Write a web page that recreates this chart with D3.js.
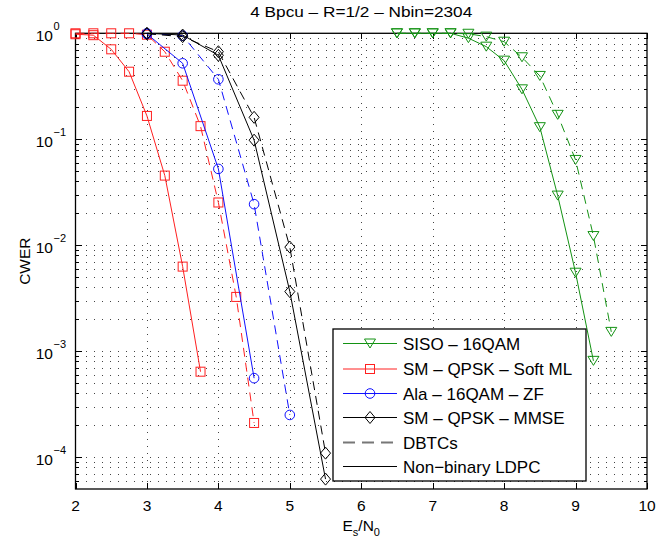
<!DOCTYPE html>
<html><head><meta charset="utf-8">
<script src="https://cdn.jsdelivr.net/npm/d3@7"></script>
<style>
html,body{margin:0;padding:0;background:#fff;}
text{font-family:"Liberation Sans",Arial,Helvetica,sans-serif;fill:#000;}
</style></head>
<body><svg id="c" width="658" height="544"></svg>
<script>
// ---- data ----
const title = "4 Bpcu \u2013 R=1/2 \u2013 Nbin=2304";
const xTicks = [2,3,4,5,6,7,8,9,10];
const yExps = [0,-1,-2,-3,-4];

const snrSisoLdpc = [6.5,6.75,7,7.25,7.5,7.75,8,8.25,8.5,8.75,9,9.25];
const cwerSisoLdpc = [1,1,1,1,0.9,0.748,0.552,0.296,0.130,0.0294,0.0055,8.1e-4];
const snrSisoDbtc = [6.5,6.75,7,7.25,7.5,7.75,8,8.25,8.5,8.75,9,9.25,9.5];
const cwerSisoDbtc = [1,1,1,1,0.99,0.93,0.833,0.594,0.396,0.17,0.0638,0.0122,1.52e-3];

const snrMlLdpc = [2,2.25,2.5,2.75,3,3.25,3.5,3.75];
const cwerMlLdpc = [0.98,0.96,0.706,0.434,0.166,0.0454,0.00628,6.4e-4];
const snrMlDbtc = [2,2.25,2.5,2.75,3,3.25,3.5,3.75,4,4.25,4.5];
const cwerMlDbtc = [1,1,1,1,0.97,0.67,0.357,0.133,0.0253,0.00325,2.1e-4];

const snrZfLdpc = [3,3.5,4,4.5];
const cwerZfLdpc = [0.985,0.521,0.0525,5.56e-4];
const snrZfDbtc = [3,3.5,4,4.5,5];
const cwerZfDbtc = [1,0.95,0.368,0.0244,2.5e-4];

const snrMmseLdpc = [3,3.5,4,4.5,5,5.5];
const cwerMmseLdpc = [1,0.963,0.62,0.098,0.00365,6.2e-5];
const snrMmseDbtc = [3,3.5,4,4.5,5,5.5];
const cwerMmseDbtc = [0.99,0.93,0.67,0.161,0.0096,1.09e-4];

const legendLabels = ["SISO \u2013 16QAM","SM \u2013 QPSK \u2013 Soft ML","Ala \u2013 16QAM \u2013 ZF","SM \u2013 QPSK \u2013 MMSE","DBTCs","Non\u2212binary LDPC"];

// ---- setup ----
const svg = d3.select("#c");
const L=75.5, R=647, T=33.3, B=489;
const x = d3.scaleLinear().domain([2,10]).range([L,R]);
const y = d3.scaleLog().domain([5e-5,1]).range([B,T]);

const GREEN="#139213", RED="#ff2020", BLUE="#1010ff", BLACK="#000";
const series = [
  {x:snrSisoLdpc,y:cwerSisoLdpc,c:GREEN,m:"tri",dash:null},
  {x:snrSisoDbtc,y:cwerSisoDbtc,c:GREEN,m:"tri",dash:"9,6"},
  {x:snrMlLdpc,y:cwerMlLdpc,c:RED,m:"sq",dash:null},
  {x:snrMlDbtc,y:cwerMlDbtc,c:RED,m:"sq",dash:"9,6"},
  {x:snrZfLdpc,y:cwerZfLdpc,c:BLUE,m:"circ",dash:null},
  {x:snrZfDbtc,y:cwerZfDbtc,c:BLUE,m:"circ",dash:"9,6"},
  {x:snrMmseLdpc,y:cwerMmseLdpc,c:BLACK,m:"dia",dash:null},
  {x:snrMmseDbtc,y:cwerMmseDbtc,c:BLACK,m:"dia",dash:"9,6"}
];

// background
svg.append("rect").attr("x",L).attr("y",T).attr("width",R-L).attr("height",B-T).attr("fill","#fff");

// grid
const grid = svg.append("g").attr("stroke","#444").attr("stroke-width",1).attr("shape-rendering","crispEdges");
xTicks.filter(v=>v>2&&v<10).forEach(v=>{
  grid.append("line").attr("x1",Math.round(x(v))+0.5).attr("x2",Math.round(x(v))+0.5).attr("y1",T).attr("y2",B)
    .attr("stroke-dasharray","1,6");
});
const minorVals=[];
for(let e=-5;e<=-1;e++){for(let k=1;k<=9;k++){const v=k*Math.pow(10,e);if(v>5.01e-5&&v<0.999)minorVals.push(v);}}
minorVals.forEach(v=>{
  const yy=Math.round(y(v))+0.5;
  grid.append("line").attr("x1",L+2).attr("x2",R).attr("y1",yy).attr("y2",yy).attr("stroke-dasharray","1,7");
});

// ticks
const tk = svg.append("g").attr("stroke","#000").attr("stroke-width",1).attr("shape-rendering","crispEdges");
xTicks.forEach(v=>{
  const xx=Math.round(x(v))+0.5;
  tk.append("line").attr("x1",xx).attr("x2",xx).attr("y1",B).attr("y2",B-6);
  tk.append("line").attr("x1",xx).attr("x2",xx).attr("y1",T).attr("y2",T+6);
});
minorVals.concat([1]).forEach(v=>{
  const yy=Math.round(y(v))+0.5;
  const major = Math.abs(Math.log10(v)-Math.round(Math.log10(v)))<1e-6;
  const len = major?6:3;
  tk.append("line").attr("x1",L).attr("x2",L+len).attr("y1",yy).attr("y2",yy);
  tk.append("line").attr("x1",R).attr("x2",R-len).attr("y1",yy).attr("y2",yy);
});

// frame
svg.append("rect").attr("x",L).attr("y",T).attr("width",R-L).attr("height",B-T)
  .attr("fill","none").attr("stroke","#000").attr("stroke-width",1.3);

// tick labels
const xl = svg.append("g");
xTicks.forEach(v=>{
  xl.append("text").attr("x",x(v)).attr("y",510.5).attr("text-anchor","middle").attr("font-size",15.5).text(v);
});
yExps.forEach(e=>{
  const yy=y(Math.pow(10,e));
  svg.append("text").attr("x",53).attr("y",yy+8).attr("text-anchor","end").attr("font-size",15.5).text("10");
  svg.append("text").attr("x",53.5).attr("y",yy-3.5).attr("text-anchor","start").attr("font-size",11)
    .text(e===0?"0":"\u2212"+(-e));
});

// axis labels & title
svg.append("text").attr("x",(L+R)/2).attr("y",17).attr("text-anchor","middle").attr("font-size",15)
  .attr("textLength",222).attr("lengthAdjust","spacingAndGlyphs").text(title);
const xlab = svg.append("text").attr("x",(L+R)/2).attr("y",531).attr("text-anchor","middle").attr("font-size",15.5);
xlab.append("tspan").text("E");
xlab.append("tspan").attr("font-size",11).attr("dy",5).text("s");
xlab.append("tspan").attr("dy",-5).text("/N");
xlab.append("tspan").attr("font-size",11).attr("dy",5).text("0");
svg.append("text").attr("transform",`translate(30,${(T+B)/2}) rotate(-90)`).attr("text-anchor","middle")
  .attr("font-size",15.5).text("CWER");

// markers
function marker(g,type,cx,cy,color){
  if(type==="sq") g.append("rect").attr("x",cx-4.5).attr("y",cy-4.5).attr("width",9).attr("height",9);
  else if(type==="circ") g.append("circle").attr("cx",cx).attr("cy",cy).attr("r",4.8);
  else if(type==="dia") g.append("path").attr("d",`M${cx},${cy-6}L${cx+5},${cy}L${cx},${cy+6}L${cx-5},${cy}Z`);
  else if(type==="tri") g.append("path").attr("d",`M${cx-5.5},${cy-4.5}L${cx+5.5},${cy-4.5}L${cx},${cy+4.5}Z`);
}
const line = d3.line().x(d=>x(d[0])).y(d=>y(d[1]));
const plot = svg.append("g");
series.forEach(s=>{
  const pts = s.x.map((v,i)=>[v,s.y[i]]);
  plot.append("path").attr("d",line(pts)).attr("fill","none").attr("stroke",s.c).attr("stroke-width",1)
    .attr("stroke-dasharray",s.dash);
  const mg = plot.append("g").attr("fill","none").attr("stroke",s.c).attr("stroke-width",1);
  pts.forEach(p=>marker(mg,s.m,x(p[0]),y(p[1]),s.c));
});

// legend
const lg = svg.append("g");
lg.append("rect").attr("x",333).attr("y",329).attr("width",253).attr("height",152)
  .attr("fill","#fff").attr("stroke","#000").attr("stroke-width",1.3);
const legItems = [
  {c:GREEN,m:"tri",dash:null},{c:RED,m:"sq",dash:null},{c:BLUE,m:"circ",dash:null},
  {c:BLACK,m:"dia",dash:null},{c:"#777",m:null,dash:"12,7"},{c:BLACK,m:null,dash:null}
];
const legY = [343.5,369,393.5,417.5,442.5,466.5];
legItems.forEach((it,i)=>{
  const yy=legY[i];
  lg.append("line").attr("x1",343).attr("x2",397).attr("y1",yy).attr("y2",yy).attr("stroke",it.c)
    .attr("stroke-width",it.m===null&&it.dash?2:1).attr("stroke-dasharray",it.dash);
  if(it.m){const mg=lg.append("g").attr("fill","none").attr("stroke",it.c);marker(mg,it.m,370,yy,it.c);}
  lg.append("text").attr("x",403).attr("y",yy+6).attr("font-size",17).text(legendLabels[i]);
});
</script></body></html>
